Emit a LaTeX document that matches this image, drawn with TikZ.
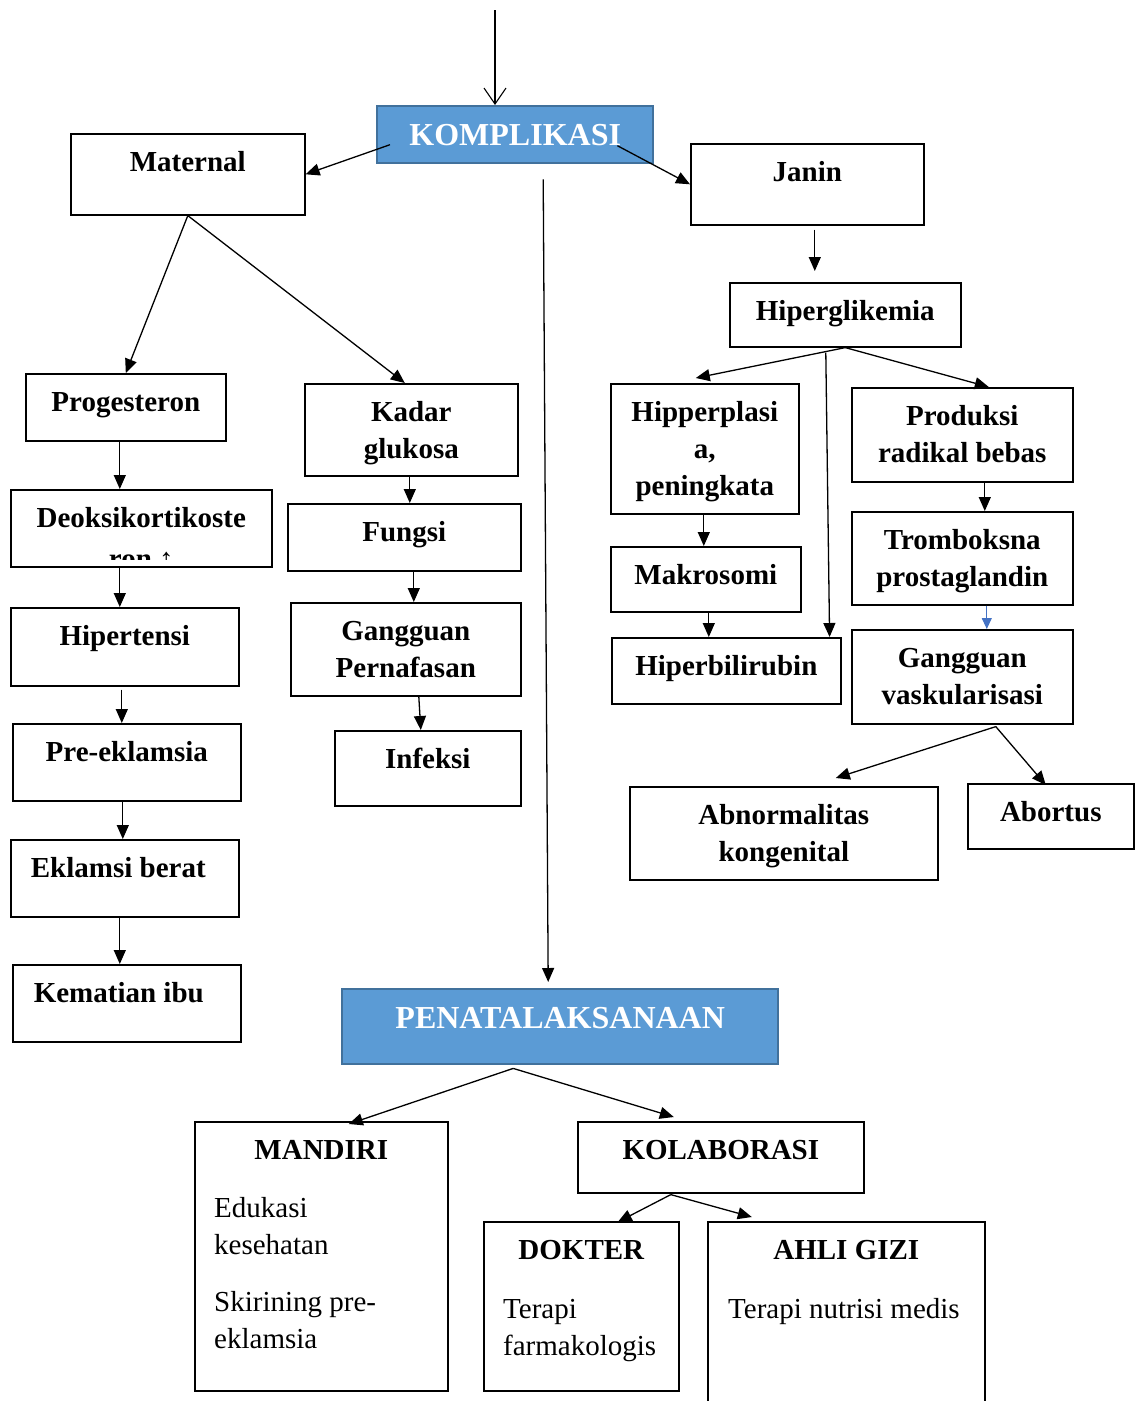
\documentclass[tikz,border=0pt]{standalone}
\usepackage{fontspec}
\setmainfont{Liberation Serif}
\usetikzlibrary{arrows.meta,calc,positioning}
\definecolor{kotak}{HTML}{5B9BD5}
\definecolor{tepi}{HTML}{41719C}
\definecolor{panah}{HTML}{4472C4}

\begin{document}
\begin{tikzpicture}[x=1pt,y=-1pt,
  lb/.style={anchor=north,inner sep=0pt,yshift=-12pt,align=center,%
    font=\bfseries\fontsize{29}{37}\selectfont},%
  bd/.style={anchor=north west,inner sep=0pt,align=left,%
    font=\fontsize{29}{37}\selectfont},%
  bx/.style n args={3}{draw,line width=1.6pt,anchor=north west,inner sep=0pt,%
    minimum width=#1,minimum height=#2,label={[lb]north:{\strut#3}}},%
  bl/.style n args={3}{draw=tepi,fill=kotak,line width=2.4pt,anchor=north west,%
    inner sep=0pt,minimum width=#1,minimum height=#2,%
    label={[lb,text=white,yshift=-2pt,font=\bfseries\fontsize{32}{37}\selectfont]north:{\strut#3}}},%
  e/.style={-{Triangle[length=14pt,width=12pt]},line width=1.3pt},%
  eb/.style={-{Triangle[length=11pt,width=10pt]},line width=1.1pt,draw=panah,fill=panah}
  ]
  \useasboundingbox (0,0) rectangle (1136,1401);

  \node (kompl) [bl={276}{57}{KOMPLIKASI}] at (376,105) {};
  \node (maternal) [bx={234}{81}{Maternal}] at (70,133) {};
  \node (janin) [bx={233}{81}{Janin}] at (690,143) {};
  \node (hiperg) [bx={231}{64}{Hiperglikemia}] at (729,282) {};

  % cabang maternal
  \node (prog) [bx={200}{67}{Progesteron}] at (25,373) {};
  \node (deoks) [bx={261}{77}{Deoksikortikoste}] at (10,489) {};
  \node (hipert) [bx={228}{78}{Hipertensi}] at (10,607) {};
  \node (pre) [bx={228}{77}{Pre-eklamsia}] at (12,723) {};
  \node (eklamsi) [bx={228}{77}{Eklamsi berat\hspace{13pt}}] at (10,839) {};
  \node (kematian) [bx={228}{77}{Kematian ibu\hspace{16pt}}] at (12,964) {};
  \node (kadar) [bx={213}{92}{Kadar\\glukosa}] at (304,383) {};
  \node (fungsi) [bx={233}{67}{Fungsi}] at (287,503) {};
  \node (gangp) [bx={230}{93}{Gangguan\\Pernafasan}] at (290,602) {};
  \node (infeksi) [bx={186}{75}{Infeksi}] at (334,730) {};

  \begin{scope}
    \clip (deoks.north west) rectangle ($(deoks.south east)+(0,-8)$);
    \node (deoksron) [lb,anchor=base,yshift=0pt] at ($(deoks.north)+(0,67)$) {ron ↑};
  \end{scope}

  % cabang janin
  \node (hipper) [bx={188}{130}{Hipperplasi\\a,\\peningkata}] at (610,383) {};
  \node (makro) [bx={190}{65}{Makrosomi}] at (610,546) {};
  \node (hiperb) [bx={229}{66}{Hiperbilirubin}] at (611,637) {};
  \node (prod) [bx={221}{94}{Produksi\\radikal bebas}] at (851,387) {};
  \node (tromb) [bx={221}{93}{Tromboksna\\prostaglandin}] at (851,511) {};
  \node (gangv) [bx={221}{94}{Gangguan\\vaskularisasi}] at (851,629) {};
  \node (abnorm) [bx={308}{93}{Abnormalitas\\kongenital}] at (629,786) {};
  \node (abortus) [bx={166}{65}{Abortus}] at (967,783) {};

  % penatalaksanaan
  \node (penat) [bl={436}{75}{PENATALAKSANAAN}] at (341,988) {};
  \node (mandiri) [bx={253}{269}{MANDIRI}] at (194,1121) {};
  \node (kolab) [bx={286}{71}{KOLABORASI}] at (577,1121) {};
  \node (dokter) [bx={195}{169}{DOKTER}] at (483,1221) {};
  \node (ahli) [bx={277}{200}{AHLI GIZI}] at (707,1221) {};
  \node (mandiritxt) [bd] at (214,1191) {\strut Edukasi\\kesehatan\\[20pt]Skirining pre-\\eklamsia};
  \node (doktertxt) [bd] at (503,1292) {\strut Terapi\\farmakologis};
  \node (ahlitxt) [bd] at (728,1292) {\strut Terapi nutrisi medis};

  \coordinate (src) at (495,10);
  \draw [-{Straight Barb[length=16pt,width=22pt]},line width=1.1pt] (src) -- (src |- kompl.north);
  \draw [e] ($(kompl.west)+(14,10)$) -- (maternal.east);
  \draw [e] ($(kompl.east)+(-37,11)$) -- (janin.west);
  \draw [e] ($(kompl.south)+(28,15)$) -- ($(penat.north)+(-12,-6)$);

  \draw [e] (maternal.south) -- (prog.north);
  \draw [e] (maternal.south) -- ($(kadar.north)+(-6.5,0)$);
  \draw [e] ($(prog.south)+(-6,0)$) -- ($(prog.south |- deoks.north)+(-6,0)$);
  \draw [e] ($(deoks.south)+(-21.5,0)$) -- ($(deoks.south |- hipert.north)+(-21.5,0)$);
  \draw [e] ($(hipert.south)+(-3,3)$) -- ($(hipert.south |- pre.north)+(-3,0)$);
  \draw [e] ($(pre.south)+(-4,0)$) -- ($(pre.south |- eklamsi.north)+(-4,0)$);
  \draw [e] ($(eklamsi.south)+(-5,0)$) -- ($(eklamsi.south |- kematian.north)+(-5,0)$);
  \draw [e] ($(kadar.south)+(-1.5,0)$) -- ($(kadar.south |- fungsi.north)+(-1.5,0)$);
  \draw [e] ($(fungsi.south)+(9.5,0)$) -- ($(fungsi.south |- gangp.north)+(9.5,0)$);
  \draw [e] ($(gangp.south)+(13,0)$) -- ($(infeksi.north)+(-7,0)$);

  \draw [e,shorten >=11pt] ($(janin.south)+(7.5,4)$) -- ($(janin.south |- hiperg.north)+(7.5,0)$);
  \draw [e] (hiperg.south) -- ($(hipper.north)+(-9,-5)$);
  \draw [e] (hiperg.south) -- ($(prod.north)+(26.5,0)$);
  \draw [e] ($(hiperg.south)+(-19.5,5)$) -- ($(hiperb.north east)+(-12,0)$);
  \draw [e] ($(hipper.south)+(-1,0)$) -- ($(hipper.south |- makro.north)+(-1,0)$);
  \draw [e] ($(makro.south)+(3,0)$) -- ($(makro.south |- hiperb.north)+(3,0)$);
  \draw [e] ($(prod.south)+(22.5,0)$) -- ($(prod.south |- tromb.north)+(22.5,0)$);
  \draw [eb] ($(tromb.south)+(24.5,0)$) -- ($(tromb.south |- gangv.north)+(24.5,0)$);
  \draw [e] ($(gangv.south)+(33.5,2)$) -- ($(abnorm.north)+(52,-8)$);
  \draw [e] ($(gangv.south)+(33.5,2)$) -- ($(abortus.north)+(-5,2)$);

  \draw [e] ($(penat.south)+(-47,3)$) -- ($(mandiri.north)+(27.5,3)$);
  \draw [e] ($(penat.south)+(-47,3)$) -- ($(kolab.north)+(-47,-4)$);
  \draw [e] ($(kolab.south)+(-50,1)$) -- ($(dokter.north)+(36.5,1)$);
  \draw [e] ($(kolab.south)+(-50,1)$) -- ($(ahli.north)+(-94.5,-4)$);
\end{tikzpicture}
\end{document}
